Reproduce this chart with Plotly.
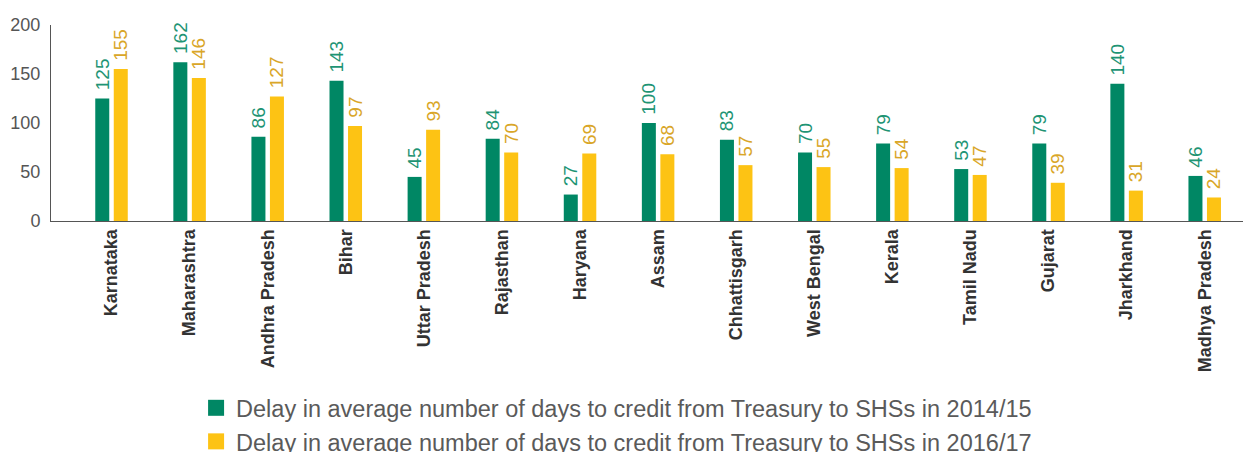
import plotly.graph_objects as go

states = ["Karnataka", "Maharashtra", "Andhra Pradesh", "Bihar", "Uttar Pradesh",
          "Rajasthan", "Haryana", "Assam", "Chhattisgarh", "West Bengal",
          "Kerala", "Tamil Nadu", "Gujarat", "Jharkhand", "Madhya Pradesh"]
delay_2014_15 = [125, 162, 86, 143, 45, 84, 27, 100, 83, 70, 79, 53, 79, 140, 46]
delay_2016_17 = [155, 146, 127, 97, 93, 70, 69, 68, 57, 55, 54, 47, 39, 31, 24]
series_names = ["Delay in average number of days to credit from Treasury to SHSs in 2014/15",
                "Delay in average number of days to credit from Treasury to SHSs in 2016/17"]
y_ticks = [0, 50, 100, 150, 200]

GREEN = "#008764"
YELLOW = "#FDC314"
GREEN_TXT = "#1E9474"
YELLOW_TXT = "#D9A628"

fig = go.Figure()
for vals, name, col, tcol in [(delay_2014_15, series_names[0], GREEN, GREEN_TXT),
                              (delay_2016_17, series_names[1], YELLOW, YELLOW_TXT)]:
    fig.add_trace(go.Bar(
        x=states, y=vals, name=name, showlegend=False,
        marker=dict(color=col, line=dict(width=0)),
        text=["\u00a0" + str(v) for v in vals], textposition="outside", textangle=-90,
        constraintext="none", cliponaxis=False,
        textfont=dict(size=19, color=tcol, family="Liberation Sans Narrow, Liberation Sans"),
    ))
# legend entries
for name, col in [(series_names[0], GREEN), (series_names[1], YELLOW)]:
    fig.add_trace(go.Scatter(
        x=[None], y=[None], mode="markers", name=name,
        marker=dict(symbol="square", size=20, color=col, line=dict(width=0)),
    ))

fig.update_layout(
    width=1243, height=444,
    margin=dict(l=43, r=1, t=17, b=231, autoexpand=False),
    paper_bgcolor="white", plot_bgcolor="white",
    barmode="group", bargap=0.526, bargroupgap=0.243,
    font=dict(family="Liberation Sans", color="#555555"),
    showlegend=True,
    legend=dict(orientation="v", x=0.121, xanchor="left", y=-0.842, yanchor="top",
                font=dict(size=23.5, color="#5a5a5a", family="Liberation Sans"),
                traceorder="normal", itemwidth=30, tracegroupgap=0),
    xaxis=dict(range=[-0.775, 14.58], tickangle=-90, showline=True, linecolor="#555555",
               linewidth=1, ticks="", showgrid=False,
               tickfont=dict(size=18, color="#333333", family="Liberation Sans", weight="bold")),
    yaxis=dict(range=[0, 200], tickvals=y_ticks, showline=True, linecolor="#555555",
               linewidth=1, ticks="", showgrid=False, zeroline=False,
               tickfont=dict(size=18, color="#555555", family="Liberation Sans"),
               ticklabelstandoff=6),
)
fig.write_html("out.html")
